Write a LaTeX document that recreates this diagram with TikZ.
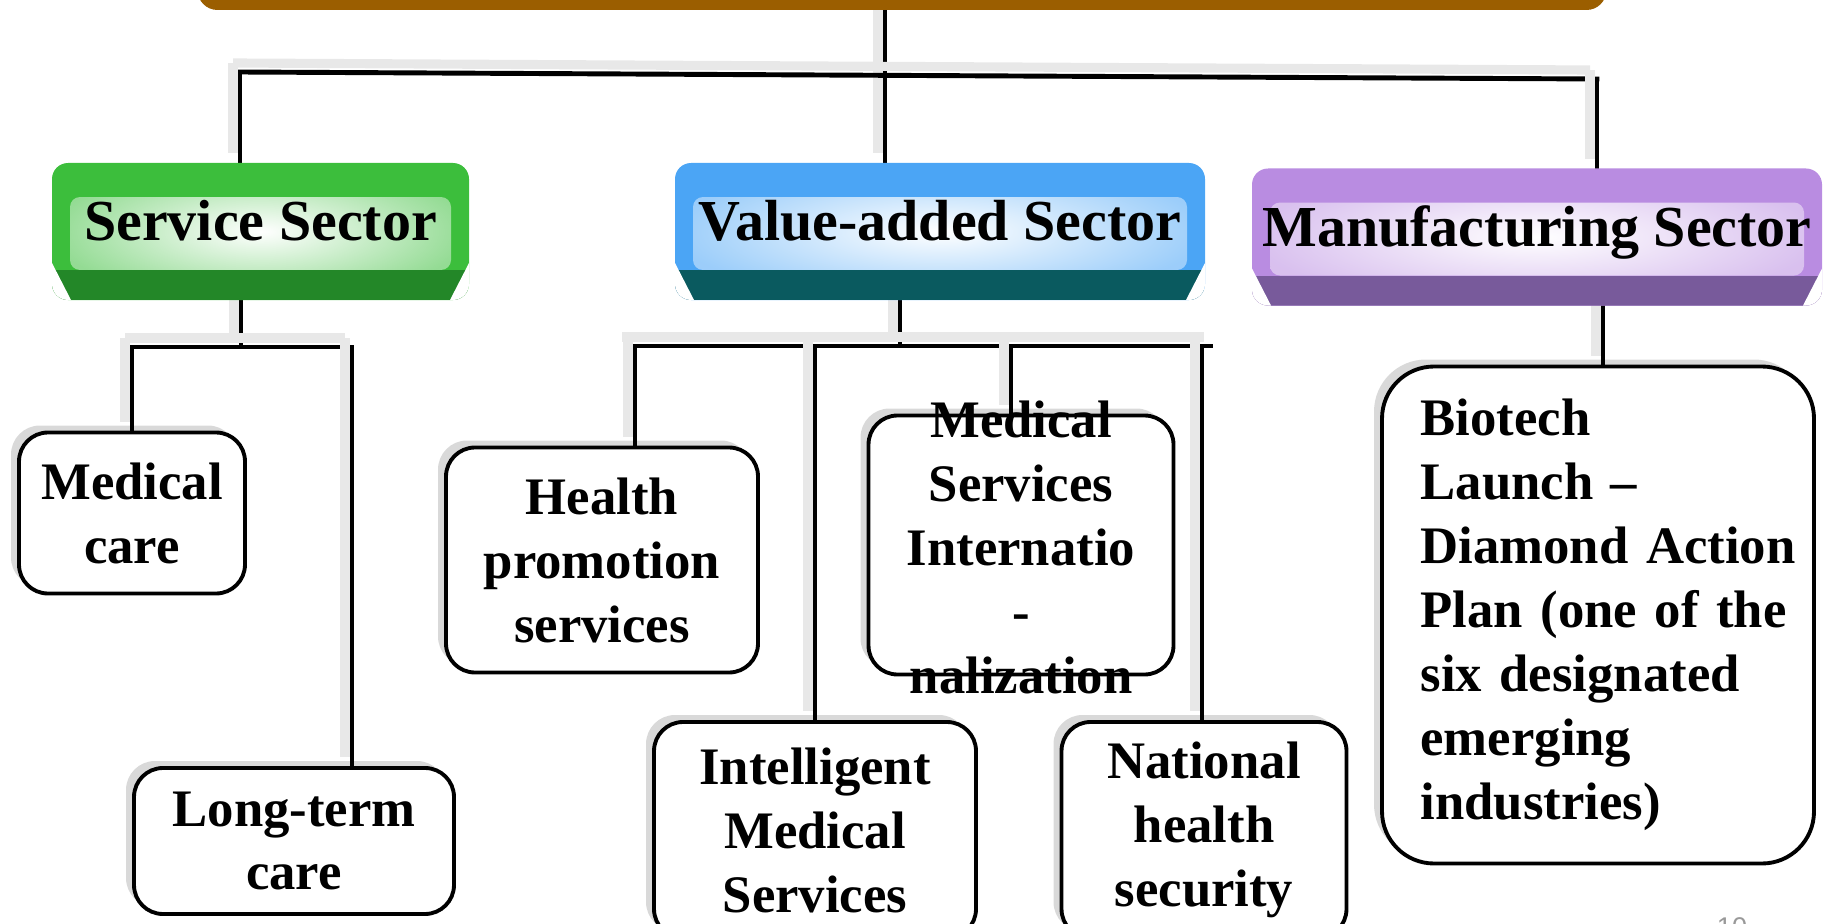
\documentclass[tikz,border=0pt]{standalone}
\usepackage{fontspec}
\setmainfont{Liberation Serif}
\newfontfamily\pagefont{Liberation Sans}
\usetikzlibrary{shadows, backgrounds}

\definecolor{rootbrown}{RGB}{155,94,0}
\definecolor{svcgreen}{RGB}{60,190,60}
\definecolor{svcdark}{RGB}{35,135,40}
\definecolor{valblue}{RGB}{75,165,245}
\definecolor{valdark}{RGB}{10,90,95}
\definecolor{manpurple}{RGB}{185,140,225}
\definecolor{mandark}{RGB}{120,90,155}

\newcommand{\itemfont}{\fontsize{15}{18.2}\selectfont\bfseries}
\newcommand{\sectorfont}{\fontsize{16.5}{19}\selectfont\bfseries}

\tikzstyle{rootbar} = [rectangle, fill=rootbrown, rounded corners=2mm, minimum width=140.9mm, minimum height=5mm]
\tikzstyle{item} = [rectangle, draw, fill=white, line width=1.1pt, rounded corners=2.9mm, align=center, font=\itemfont, drop shadow={shadow xshift=-0.8mm, shadow yshift=0.7mm, fill=black, opacity=0.15}]
\tikzstyle{link} = [line width=1.4pt, line cap=rect, preaction={draw=black!9, line width=2.6pt, transform canvas={shift={(-0.7mm,0.9mm)}}}]
\tikzstyle{pagenum} = [font=\pagefont\fontsize{7.7}{9}\selectfont, text=black!40]

\tikzset{
  sector/.style 2 args={rectangle, rounded corners=1.6mm, fill=#1, inner sep=0pt,
    minimum height=13.7mm, text height=4mm, text depth=2.2mm, font=\sectorfont,
    path picture={
      \shade[rounded corners=1mm, inner color=white, outer color=#1!55!white]
        ([shift={(1.8mm,3mm)}]path picture bounding box.south west) rectangle
        ([shift={(-1.8mm,-3.4mm)}]path picture bounding box.north east);
      \fill[#2, sharp corners] (path picture bounding box.south west) rectangle
        ([yshift=3mm]path picture bounding box.south east);
      \fill[white, sharp corners] (path picture bounding box.south west) -- ++(0mm,3.7mm) -- ++(1.9mm,-3.7mm) -- cycle;
      \fill[white, sharp corners] (path picture bounding box.south east) -- ++(0mm,3.7mm) -- ++(-1.9mm,-3.7mm) -- cycle;
    }},
}

\begin{document}
\begin{tikzpicture}[x=0.1mm, y=-0.1mm]
\useasboundingbox (0,0) rectangle (1826,923);
\clip (0,0) rectangle (1826,923);

% top of the tree (cut off by the page)
\node [rootbar] (root) at (902,-15) {};

% three sectors
\node [sector={svcgreen}{svcdark}, minimum width=41.7mm] (svc) at (260.5,231.5) {Service Sector};
\node [sector={valblue}{valdark}, minimum width=53mm] (val) at (940,231.5) {Value-added Sector};
\node [sector={manpurple}{mandark}, minimum width=57mm] (man) at (1537,237) {Manufacturing Sector};

% service sector items
\node [item, minimum width=22.6mm, minimum height=16.1mm] (med) at (132,513) {Medical\\care};
\node [item, minimum width=32mm, minimum height=14.6mm] (lterm) at (294,841) {Long-term\\care};

% value-added sector items
\node [item, minimum width=31.2mm, minimum height=22.5mm] (health) at (602,560) {Health\\promotion\\services};
\node [item, minimum width=30.5mm, minimum height=25.9mm] (intl) at (1021,545)
  {\parbox[c][0pt]{26mm}{\centering\vspace*{1.8mm}Medical\\Services\\Internatio\\-\\nalization}};
\node [item, minimum width=32.2mm, minimum height=21.6mm] (intel) at (815,830) {Intelligent\\Medical\\Services};
\node [item, minimum width=28.5mm, minimum height=21.6mm] (natl) at (1204,830) {National\\health\\security};

% manufacturing sector item
\node [item, rounded corners=5.2mm, align=left, text width=35.5mm, minimum width=43.2mm, minimum height=49.7mm] (bio) at (1598,615)
  {Biotech\\Launch --\\\mbox{Diamond Action}\\\mbox{Plan (one of the}\\\mbox{six designated}\\emerging\\industries)};

\node [pagenum] (page) at (1732,927) {10};

%---------------------------------------------
% connectors
%---------------------------------------------
\coordinate (vtrunk) at (885,0);
\coordinate (bus-l) at (240,72);
\coordinate (bus-r) at (1597,79);
\coordinate (svc-trunk) at (241,347);
\coordinate (svc-bus-l) at (132,347);
\coordinate (svc-bus-r) at (352,347);
\coordinate (val-trunk) at (900,346);
\coordinate (val-bus-l) at (629,346);
\coordinate (val-bus-r) at (1211,346);
\coordinate (man-trunk) at (1603,0);

\begin{scope}[on background layer]
\draw [link] (vtrunk |- root.south) -- (vtrunk |- val.north);
\draw [link] (bus-l) -- (bus-r);
\draw [link] (bus-l) -- (bus-l |- svc.north);
\draw [link] (bus-r) -- (bus-r |- man.north);

\draw [link] (svc-trunk |- svc.south) -- (svc-trunk);
\draw [link] (svc-bus-l) -- (svc-bus-r);
\draw [link] (svc-bus-l) -- (svc-bus-l |- med.north);
\draw [link] (svc-bus-r) -- (svc-bus-r |- lterm.north);

\draw [link] (val-trunk |- val.south) -- (val-trunk);
\draw [link] (val-bus-l) -- (val-bus-r);
\foreach \xx/\nn in {635/health, 815/intel, 1011/intl, 1202/natl}{
  \coordinate (drop) at (\xx,346);
  \draw [link] (drop) -- (drop |- \nn.north);
}

\draw [link] (man-trunk |- man.south) -- (man-trunk |- bio.north);
\end{scope}

\end{tikzpicture}
\end{document}
